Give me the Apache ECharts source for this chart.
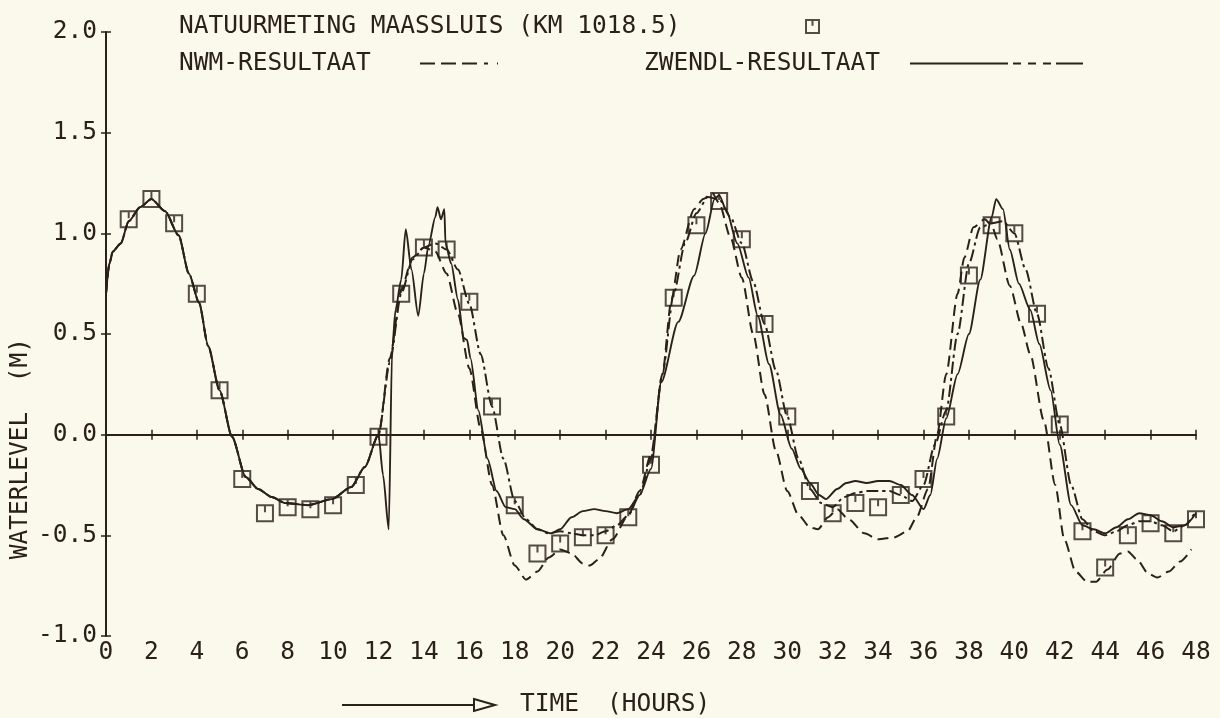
<!DOCTYPE html>
<html>
<head>
<meta charset="utf-8">
<script src="https://cdn.jsdelivr.net/npm/echarts@6/dist/echarts.min.js"></script>
<style>
html,body{margin:0;padding:0;background:#fbf8ec;}
#chart{width:1220px;height:718px;}
</style>
</head>
<body>
<div id="chart"></div>
<script>
// ---- tick labels / names ----
const xTicks = [0, 48, 2];          // min, max, interval (hours)
const yTicks = [-1.0, 2.0, 0.5];    // min, max, interval (m)
const obsName = 'NATUURMETING MAASSLUIS (KM 1018.5)';
const nwmName = 'NWM-RESULTAAT';
const zwName = 'ZWENDL-RESULTAAT';
const solidName = 'BEREKENING';
const yTitle = 'WATERLEVEL  (M)';
const xTitleA = 'TIME';
const xTitleB = '(HOURS)';

// ---- measurements (squares) ----
const obsHours = [1,2,3,4,5,6,7,8,9,10,11,12,13,14,15,16,17,18,19,20,21,22,23,24,
                  25,26,27,28,29,30,31,32,33,34,35,36,37,38,39,40,41,42,43,44,45,46,47,48];
const obsLevels = [1.07,1.17,1.05,0.70,0.22,-0.22,-0.39,-0.36,-0.37,-0.35,-0.25,-0.01,
                   0.70,0.93,0.92,0.66,0.14,-0.35,-0.59,-0.54,-0.51,-0.50,-0.41,-0.15,
                   0.68,1.04,1.16,0.97,0.55,0.09,-0.28,-0.39,-0.34,-0.36,-0.30,-0.22,
                   0.09,0.79,1.04,1.00,0.60,0.05,-0.48,-0.66,-0.50,-0.44,-0.49,-0.42];

// ---- first 12 hours: all computations coincide ----
const earlyHours = [0,0.15,0.3,0.65,1.0,1.5,2.0,2.6,3.2,3.65,4.1,4.5,5.0,5.55,6.15,6.7,7.3,7.9,8.9,9.95,10.8,11.4,12.0];
const earlyLevels = [0.70,0.85,0.91,0.95,1.06,1.13,1.17,1.11,0.99,0.80,0.655,0.44,0.22,-0.01,-0.21,-0.27,-0.31,-0.34,-0.35,-0.32,-0.26,-0.16,0.0];

// ---- NWM result (dashed) after 12 h ----
const nwmHours = [12.5,13.0,13.5,14.0,14.5,15.0,15.5,16.0,16.5,17.0,17.5,18.0,18.5,19.0,19.5,20.0,20.5,21.0,21.3,21.7,
                  22.3,23.0,23.5,24.0,24.5,24.9,25.3,25.9,26.3,26.7,27.0,27.5,28.0,28.5,29.0,29.5,30.0,30.5,31.0,31.35,
                  31.8,32.2,32.7,33.4,34.0,34.7,35.3,35.7,36.2,36.6,37.0,37.5,37.8,38.2,38.7,39.0,39.25,39.8,40.3,40.7,
                  41.3,41.8,42.2,42.7,43.2,43.6,44.1,44.65,45.0,45.4,45.9,46.3,46.8,47.3,47.8];
const nwmLevels = [0.38,0.72,0.88,0.93,0.91,0.80,0.60,0.33,0.03,-0.25,-0.50,-0.65,-0.72,-0.68,-0.61,-0.57,-0.59,-0.64,-0.65,-0.62,
                   -0.52,-0.40,-0.28,-0.10,0.30,0.67,0.92,1.12,1.17,1.20,1.15,0.98,0.78,0.50,0.20,-0.08,-0.28,-0.40,-0.46,-0.47,
                   -0.41,-0.37,-0.42,-0.49,-0.52,-0.51,-0.48,-0.41,-0.27,0.0,0.30,0.70,0.88,1.03,1.07,1.04,0.97,0.74,0.55,0.40,
                   0.07,-0.25,-0.52,-0.68,-0.73,-0.73,-0.67,-0.59,-0.58,-0.62,-0.69,-0.71,-0.68,-0.63,-0.57];

// ---- ZWENDL result (dash-dot) after 12 h ----
const zwHours = [12.5,13.0,13.5,14.0,14.5,15.0,15.5,16.0,16.5,17.0,17.5,18.0,18.5,19.0,19.5,20.0,20.5,21.0,21.5,22.0,
                 22.5,23.0,23.5,24.0,24.5,25.0,25.5,26.0,26.5,27.0,27.5,28.0,28.5,29.0,29.5,30.0,30.5,31.0,31.5,32.0,
                 32.5,33.0,33.5,34.0,34.5,35.0,35.5,36.0,36.5,37.0,37.5,38.0,38.5,39.0,39.5,40.0,40.5,41.0,41.5,42.0,
                 42.5,43.0,43.5,44.0,44.5,45.0,45.5,46.0,46.5,47.0,47.5,48.0];
const zwLevels = [0.36,0.70,0.87,0.93,0.95,0.92,0.82,0.65,0.40,0.14,-0.12,-0.33,-0.42,-0.47,-0.49,-0.48,-0.49,-0.50,-0.50,-0.48,
                  -0.45,-0.40,-0.30,-0.12,0.30,0.70,0.95,1.10,1.18,1.17,1.08,0.95,0.76,0.55,0.32,0.09,-0.12,-0.27,-0.34,-0.36,
                  -0.31,-0.29,-0.28,-0.28,-0.28,-0.30,-0.33,-0.25,-0.05,0.12,0.50,0.85,1.03,1.05,1.06,1.00,0.82,0.60,0.33,0.05,
                  -0.25,-0.42,-0.48,-0.50,-0.48,-0.45,-0.43,-0.43,-0.45,-0.48,-0.45,-0.38];

// ---- solid computation after 12 h ----
const solidHours = [12.2,12.45,12.6,12.75,13.0,13.2,13.45,13.75,14.0,14.2,14.5,14.6,14.75,14.9,14.95,15.2,15.5,15.75,15.9,16.05,
                    16.4,16.8,17.2,17.6,18.0,18.4,19.0,19.6,20.0,20.5,21.0,21.5,22.0,22.5,23.0,23.5,24.0,24.45,25.2,25.9,
                    26.4,26.8,27.0,27.3,27.8,28.3,28.7,29.2,29.7,30.2,30.6,31.0,31.4,31.7,32.2,32.6,33.0,33.5,34.0,34.5,
                    35.0,35.5,36.0,36.3,36.6,37.0,37.5,38.0,38.5,39.0,39.2,39.5,39.8,40.2,40.7,41.1,41.6,42.0,42.5,43.0,
                    43.5,44.0,44.5,45.0,45.5,46.0,46.5,47.0,47.5,48.0];
const solidLevels = [-0.20,-0.47,0.42,0.62,0.77,1.02,0.82,0.59,0.80,0.94,1.08,1.13,1.07,1.12,0.95,0.85,0.67,0.48,0.47,0.38,
                     0.12,-0.12,-0.28,-0.36,-0.37,-0.42,-0.47,-0.49,-0.47,-0.41,-0.38,-0.37,-0.38,-0.39,-0.37,-0.30,-0.17,0.26,0.56,0.79,
                     1.00,1.17,1.19,1.12,0.95,0.78,0.59,0.35,0.10,-0.07,-0.17,-0.24,-0.30,-0.32,-0.27,-0.24,-0.23,-0.24,-0.23,-0.23,
                     -0.25,-0.30,-0.37,-0.30,-0.12,0.08,0.30,0.50,0.77,1.08,1.17,1.12,0.92,0.75,0.62,0.45,0.22,-0.05,-0.35,-0.45,
                     -0.47,-0.49,-0.46,-0.42,-0.39,-0.40,-0.43,-0.46,-0.45,-0.39];

// ---------------------------------------------------------------
const INK = '#2a211b';
const FONT = '"DejaVu Sans Mono", monospace';
const FS = 24.5;

function pairs(h, v) { return h.map((x, i) => [x, v[i]]); }
function withEarly(h, v) { return pairs(earlyHours, earlyLevels).concat(pairs(h, v)); }

const chart = echarts.init(document.getElementById('chart'), null, {renderer: 'canvas'});

const axisLineStyle = {color: INK, width: 2};
const labelStyle = {fontFamily: FONT, fontSize: FS, color: INK};

// legend sample icons (filled strips, drawn to the item box)
const nwmIcon = 'path://M0,0h15v2h-15z M21,0h15v2h-15z M42,0h15v2h-15z M64,0h4v2h-4z M77,0h1v2h-1z';
const zwIcon = 'path://M0,0h98v2h-98z M103,0h8v2h-8z M118,0h8v2h-8z M133,0h8v2h-8z M146,0h27v2h-27z';
const obsSymbol = 'path://M0,0L16,0L16,16L0,16Z M8,0L8,7';

const option = {
  backgroundColor: '#fbf8ec',
  animation: false,
  grid: {left: 106, right: 24, top: 32, bottom: 82},
  xAxis: [
    {type: 'value', min: xTicks[0], max: xTicks[1], interval: xTicks[2],
     axisLine: {lineStyle: axisLineStyle},
     axisTick: {length: 5, lineStyle: {color: INK, width: 1.5}},
     axisLabel: Object.assign({margin: 5, lineHeight: 24}, labelStyle),
     splitLine: {show: false}},
    {type: 'value', min: xTicks[0], max: xTicks[1], interval: xTicks[2], position: 'bottom',
     axisLine: {show: false},
     axisTick: {inside: true, length: 5, lineStyle: {color: INK, width: 1.5}},
     axisLabel: {show: false}, splitLine: {show: false}}
  ],
  yAxis: [
    {type: 'value', min: yTicks[0], max: yTicks[1], interval: yTicks[2],
     axisLine: {show: true, lineStyle: axisLineStyle},
     axisTick: {show: true, length: 5, lineStyle: {color: INK, width: 1.5}},
     axisLabel: Object.assign({margin: 9, formatter: v => v.toFixed(1)}, labelStyle),
     splitLine: {show: false}},
    {type: 'value', min: yTicks[0], max: yTicks[1], interval: yTicks[2], position: 'left',
     axisLine: {show: false},
     axisTick: {show: true, inside: true, length: 5, lineStyle: {color: INK, width: 1.5}},
     axisLabel: {show: false}, splitLine: {show: false}}
  ],
  legend: [
    {data: [{name: obsName}], left: 179, top: 14, align: 'right', selectedMode: false,
     itemWidth: 13, itemHeight: 13, padding: 0,
     formatter: n => '{t|' + n + '}',
     textStyle: {rich: {t: {width: 622, align: 'left', fontFamily: FONT, fontSize: FS, color: INK}}}},
    {data: [{name: nwmName, icon: nwmIcon}],
     left: 179, top: 51, align: 'right', selectedMode: false,
     itemWidth: 78, itemHeight: 2, padding: 0,
     formatter: n => '{t|' + n + '}',
     textStyle: {rich: {t: {width: 236, align: 'left', fontFamily: FONT, fontSize: FS, color: INK}}}},
    {data: [{name: zwName, icon: zwIcon}],
     left: 644, top: 51, align: 'right', selectedMode: false,
     itemWidth: 173, itemHeight: 2, padding: 0,
     formatter: n => '{t|' + n + '}',
     textStyle: {rich: {t: {width: 261, align: 'left', fontFamily: FONT, fontSize: FS, color: INK}}}}
  ],
  graphic: [
    {type: 'text', left: 8, top: 338, rotation: Math.PI / 2,
     style: {text: yTitle, fontFamily: FONT, fontSize: FS, fill: INK}},
    {type: 'text', left: 520, top: 692,
     style: {text: xTitleA, fontFamily: FONT, fontSize: FS, fill: INK}},
    {type: 'text', left: 607, top: 692,
     style: {text: xTitleB, fontFamily: FONT, fontSize: FS, fill: INK}},
    {type: 'line', shape: {x1: 342, y1: 705, x2: 474, y2: 705}, style: {stroke: INK, lineWidth: 2}},
    {type: 'polygon', shape: {points: [[474, 699], [495, 705], [474, 711]]},
     style: {fill: 'none', stroke: INK, lineWidth: 2}}
  ],
  series: [
    {name: solidName, type: 'line', symbol: 'none', smooth: 0.25, smoothMonotone: 'x',
     data: withEarly(solidHours, solidLevels),
     lineStyle: {color: INK, width: 1.9}, z: 3},
    {name: nwmName, type: 'line', symbol: 'none', smooth: 0.25, smoothMonotone: 'x',
     data: withEarly(nwmHours, nwmLevels),
     itemStyle: {color: INK},
     lineStyle: {color: INK, width: 2, type: [11, 6]}, z: 3},
    {name: zwName, type: 'line', symbol: 'none', smooth: 0.25, smoothMonotone: 'x',
     data: withEarly(zwHours, zwLevels),
     itemStyle: {color: INK},
     lineStyle: {color: INK, width: 2, type: [12, 4, 3, 4]}, z: 3},
    {name: obsName, type: 'scatter',
     symbol: obsSymbol, symbolSize: 16,
     data: pairs(obsHours, obsLevels),
     itemStyle: {color: 'rgba(0,0,0,0)', borderColor: INK, borderWidth: 2}, z: 4}
  ]
};
chart.setOption(option);
</script>
</body>
</html>
